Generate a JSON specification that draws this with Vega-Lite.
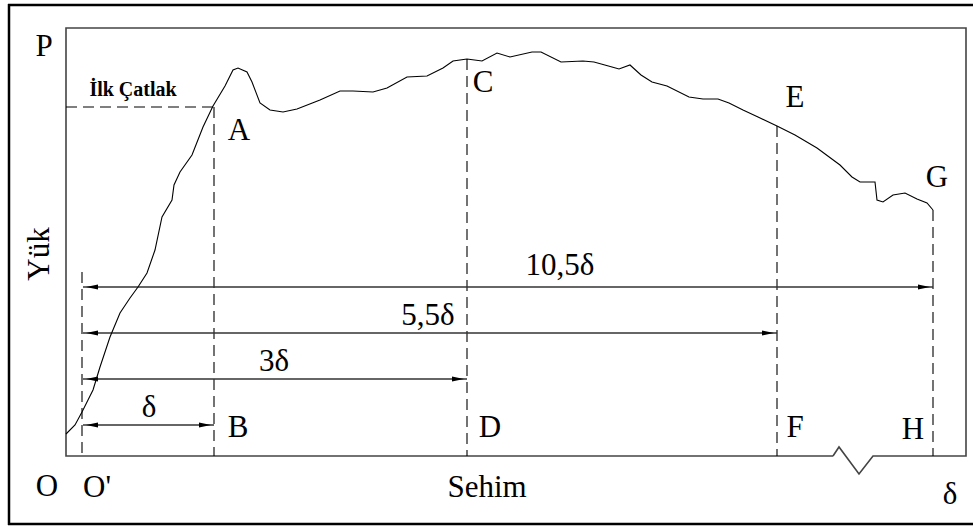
{
  "$schema": "https://vega.github.io/schema/vega-lite/v6.json",
  "width": 973,
  "height": 526,
  "padding": 0,
  "autosize": "none",
  "background": "white",
  "config": {"view": {"stroke": null}, "axis": {"disable": true}},
  "datasets": {
    "outer": [
      {"x": 8, "x2": 973, "y": 5, "y2": 5},
      {"x": 9, "x2": 9, "y": 4, "y2": 525},
      {"x": 8, "x2": 973, "y": 524, "y2": 524}
    ],
    "frame": [
      {"o": 1, "x": 833, "y": 456}, {"o": 2, "x": 66, "y": 456}, {"o": 3, "x": 66, "y": 28},
      {"o": 4, "x": 966, "y": 28}, {"o": 5, "x": 966, "y": 456}, {"o": 6, "x": 873, "y": 456},
      {"o": 7, "x": 859, "y": 474}, {"o": 8, "x": 839, "y": 447}, {"o": 9, "x": 833, "y": 456}
    ],
    "curve": [
      {"x": 66, "y": 434}, {"x": 75, "y": 425}, {"x": 82, "y": 412}, {"x": 88, "y": 400},
      {"x": 93, "y": 390}, {"x": 100, "y": 367}, {"x": 110, "y": 337}, {"x": 120, "y": 313},
      {"x": 130, "y": 298}, {"x": 138, "y": 287}, {"x": 147, "y": 273}, {"x": 155, "y": 250},
      {"x": 162, "y": 217}, {"x": 172, "y": 200}, {"x": 174, "y": 185}, {"x": 180, "y": 172},
      {"x": 192, "y": 155}, {"x": 203, "y": 127}, {"x": 213, "y": 106}, {"x": 225, "y": 86},
      {"x": 233, "y": 70}, {"x": 238, "y": 68}, {"x": 247, "y": 72}, {"x": 252, "y": 82},
      {"x": 260, "y": 103}, {"x": 270, "y": 110}, {"x": 283, "y": 112}, {"x": 297, "y": 109},
      {"x": 320, "y": 100}, {"x": 340, "y": 91}, {"x": 353, "y": 91}, {"x": 373, "y": 92},
      {"x": 387, "y": 88}, {"x": 407, "y": 77}, {"x": 427, "y": 76}, {"x": 443, "y": 68},
      {"x": 453, "y": 61}, {"x": 467, "y": 59}, {"x": 482, "y": 61}, {"x": 497, "y": 53},
      {"x": 510, "y": 57}, {"x": 532, "y": 52}, {"x": 541, "y": 52}, {"x": 561, "y": 62},
      {"x": 583, "y": 61}, {"x": 594, "y": 62}, {"x": 612, "y": 67}, {"x": 619, "y": 69},
      {"x": 630, "y": 65}, {"x": 641, "y": 75}, {"x": 652, "y": 82}, {"x": 667, "y": 86},
      {"x": 689, "y": 97}, {"x": 703, "y": 99}, {"x": 718, "y": 99}, {"x": 729, "y": 103},
      {"x": 743, "y": 110}, {"x": 758, "y": 117}, {"x": 777, "y": 126}, {"x": 795, "y": 135},
      {"x": 817, "y": 148}, {"x": 840, "y": 165}, {"x": 852, "y": 177}, {"x": 860, "y": 182},
      {"x": 875, "y": 182}, {"x": 877, "y": 200}, {"x": 883, "y": 202}, {"x": 893, "y": 195},
      {"x": 905, "y": 193}, {"x": 917, "y": 199}, {"x": 927, "y": 203}, {"x": 933, "y": 210}
    ],
    "guides": [
      {"x": 82, "x2": 82, "y": 272, "y2": 456},
      {"x": 214, "x2": 214, "y": 107, "y2": 456},
      {"x": 467, "x2": 467, "y": 59, "y2": 456},
      {"x": 777, "x2": 777, "y": 126, "y2": 456},
      {"x": 933, "x2": 933, "y": 210, "y2": 456},
      {"x": 66, "x2": 214, "y": 107, "y2": 107}
    ],
    "dims": [
      {"x": 83, "x2": 933, "y": 287},
      {"x": 83, "x2": 777, "y": 333},
      {"x": 83, "x2": 467, "y": 379},
      {"x": 83, "x2": 214, "y": 425}
    ],
    "labels": [
      {"role": "big", "x": 44, "y": 47, "t": "P"},
      {"role": "big", "x": 239, "y": 131, "t": "A"},
      {"role": "big", "x": 483, "y": 83, "t": "C"},
      {"role": "big", "x": 795, "y": 98, "t": "E"},
      {"role": "big", "x": 937, "y": 178, "t": "G"},
      {"role": "big", "x": 238, "y": 428, "t": "B"},
      {"role": "big", "x": 490, "y": 428, "t": "D"},
      {"role": "big", "x": 795, "y": 428, "t": "F"},
      {"role": "big", "x": 913, "y": 430, "t": "H"},
      {"role": "big", "x": 47, "y": 487, "t": "O"},
      {"role": "big", "x": 97, "y": 488, "t": "O'"},
      {"role": "big", "x": 487, "y": 488, "t": "Sehim"},
      {"role": "big", "x": 950, "y": 495, "t": "δ"},
      {"role": "big", "x": 560, "y": 266, "t": "10,5δ"},
      {"role": "big", "x": 428, "y": 316, "t": "5,5δ"},
      {"role": "big", "x": 274, "y": 362, "t": "3δ"},
      {"role": "big", "x": 149, "y": 408, "t": "δ"},
      {"role": "note", "x": 133, "y": 90, "t": "İlk Çatlak"},
      {"role": "ytitle", "x": 40, "y": 254, "t": "Yük"}
    ]
  },
  "encoding": {
    "x": {"type": "quantitative", "scale": {"domain": [0, 973], "nice": false, "zero": false}, "axis": null},
    "y": {"type": "quantitative", "scale": {"domain": [0, 526], "nice": false, "zero": false, "reverse": true}, "axis": null}
  },
  "layer": [
    {
      "data": {"name": "outer"},
      "mark": {"type": "rule", "color": "black", "strokeWidth": 2.5},
      "encoding": {"x": {"field": "x", "type": "quantitative"}, "x2": {"field": "x2"}, "y": {"field": "y", "type": "quantitative"}, "y2": {"field": "y2"}}
    },
    {
      "data": {"name": "frame"},
      "mark": {"type": "line", "color": "#444", "strokeWidth": 1.6},
      "encoding": {"x": {"field": "x", "type": "quantitative"}, "y": {"field": "y", "type": "quantitative"}, "order": {"field": "o", "type": "quantitative"}}
    },
    {
      "data": {"name": "guides"},
      "mark": {"type": "rule", "color": "black", "strokeWidth": 1.1, "strokeDash": [11, 6]},
      "encoding": {"x": {"field": "x", "type": "quantitative"}, "x2": {"field": "x2"}, "y": {"field": "y", "type": "quantitative"}, "y2": {"field": "y2"}}
    },
    {
      "data": {"name": "dims"},
      "mark": {"type": "rule", "color": "#333", "strokeWidth": 1.4},
      "encoding": {"x": {"field": "x", "type": "quantitative"}, "x2": {"field": "x2"}, "y": {"field": "y", "type": "quantitative"}}
    },
    {
      "data": {"name": "dims"},
      "transform": [{"fold": ["x", "x2"], "as": ["end", "pos"]}],
      "mark": {"type": "point", "filled": true, "color": "black", "size": 144, "opacity": 1},
      "encoding": {
        "x": {"field": "pos", "type": "quantitative"},
        "y": {"field": "y", "type": "quantitative"},
        "shape": {"field": "end", "type": "nominal", "legend": null,
          "scale": {"domain": ["x", "x2"], "range": ["M0.5,0L2.5,-0.4L2.5,0.4Z", "M-0.5,0L-2.5,-0.4L-2.5,0.4Z"]}}
      }
    },
    {
      "data": {"name": "curve"},
      "mark": {"type": "line", "color": "black", "strokeWidth": 1.1},
      "encoding": {"x": {"field": "x", "type": "quantitative"}, "y": {"field": "y", "type": "quantitative"}}
    },
    {
      "data": {"name": "labels"},
      "transform": [{"filter": "datum.role === 'big'"}],
      "mark": {"type": "text", "font": "Times New Roman, Liberation Serif, DejaVu Serif, serif", "fontSize": 31, "align": "center", "baseline": "middle", "color": "black"},
      "encoding": {"x": {"field": "x", "type": "quantitative"}, "y": {"field": "y", "type": "quantitative"}, "text": {"field": "t"}}
    },
    {
      "data": {"name": "labels"},
      "transform": [{"filter": "datum.role === 'note'"}],
      "mark": {"type": "text", "font": "Times New Roman, Liberation Serif, DejaVu Serif, serif", "fontSize": 20, "fontWeight": "bold", "align": "center", "baseline": "middle", "color": "black"},
      "encoding": {"x": {"field": "x", "type": "quantitative"}, "y": {"field": "y", "type": "quantitative"}, "text": {"field": "t"}}
    },
    {
      "data": {"name": "labels"},
      "transform": [{"filter": "datum.role === 'ytitle'"}],
      "mark": {"type": "text", "font": "Times New Roman, Liberation Serif, DejaVu Serif, serif", "fontSize": 31, "angle": 270, "align": "center", "baseline": "middle", "color": "black"},
      "encoding": {"x": {"field": "x", "type": "quantitative"}, "y": {"field": "y", "type": "quantitative"}, "text": {"field": "t"}}
    }
  ]
}
